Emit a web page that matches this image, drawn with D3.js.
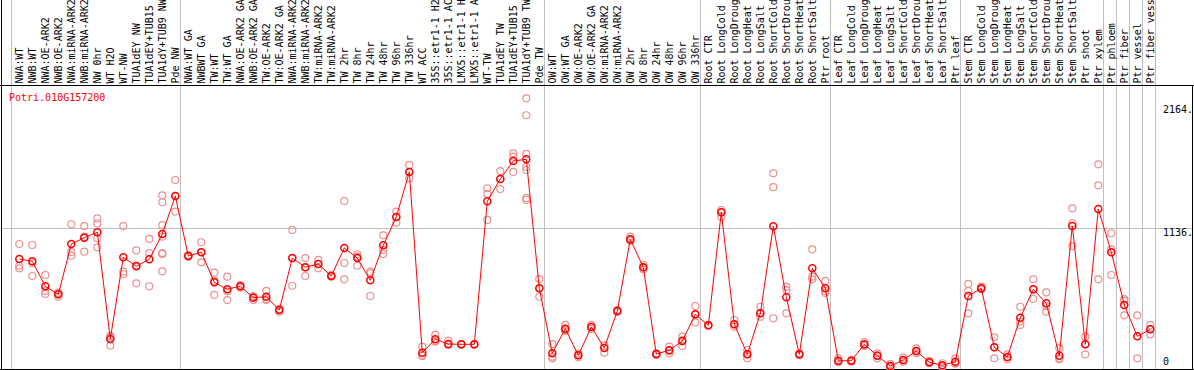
<!DOCTYPE html>
<html>
<head>
<meta charset="utf-8">
<script src="https://cdn.jsdelivr.net/npm/d3@7"></script>
<style>
  body { margin: 0; background: #fff; }
  svg { display: block; }
  text { font-family: "DejaVu Sans Mono", monospace; font-size: 10px; }
</style>
</head>
<body>
<div id="chart"></div>
<script>
var geneName = "Potri.010G157200";

var samples = [
  "NWA:WT", "NWB:WT", "NWA:OE-ARK2", "NWB:OE-ARK2", "NWA:miRNA-ARK2", "NWB:miRNA-ARK2",
  "NW 0hr", "WT H2O", "WT-NW", "TUA1dEY NW", "TUA1dEY+TUB15 NW", "TUA1dY+TUB9 NW", "Pde NW",
  "NWA:WT GA", "NWBWT GA", "TW:WT", "TW:WT GA", "NWA:OE-ARK2 GA", "NWB:OE-ARK2 GA",
  "TW:OE-ARK2", "TW:OE-ARK2 GA", "NWA:miRNA-ARK2 GA", "NWB:miRNA-ARK2 GA", "TW:miRNA-ARK2",
  "TW:miRNA-ARK2", "TW 2hr", "TW 8hr", "TW 24hr", "TW 48hr", "TW 96hr", "TW 336hr", "WT ACC",
  "35S::etr1-1 H2O", "35S::etr1-1 ACC", "LMX5::etr1-1 H2O", "LMX5::etr1-1 ACC", "WT-TW",
  "TUA1dEY TW", "TUA1dEY+TUB15 TW", "TUA1dY+TUB9 TW", "Pde TW",
  "OW:WT", "OW:WT GA", "OW:OE-ARK2", "OW:OE-ARK2 GA", "OW:miRNA-ARK2", "OW:miRNA-ARK2",
  "OW 2hr", "OW 8hr", "OW 24hr", "OW 48hr", "OW 96hr", "OW 336hr",
  "Root CTR", "Root LongCold", "Root LongDrought", "Root LongHeat", "Root LongSalt",
  "Root ShortCold", "Root ShortDrought", "Root ShortHeat", "Root ShortSalt", "Ptr root",
  "Leaf CTR", "Leaf LongCold", "Leaf LongDrought", "Leaf LongHeat", "Leaf LongSalt",
  "Leaf ShortCold", "Leaf ShortDrought", "Leaf ShortHeat", "Leaf ShortSalt", "Ptr leaf",
  "Stem CTR", "Stem LongCold", "Stem LongDrought", "Stem LongHeat", "Stem LongSalt",
  "Stem ShortCold", "Stem ShortDrought", "Stem ShortHeat", "Stem ShortSalt", "Ptr shoot",
  "Ptr xylem", "Ptr phloem", "Ptr fiber", "Ptr vessel", "Ptr fiber vessel"
];

// number of samples in each block between the grey separators
var groupSizes = [13, 28, 12, 10, 10, 11, 1, 1, 1, 1];

var means = [
  894, 875, 678, 614, 1012, 1062, 1105, 261, 907, 836, 891, 1091, 1392,
  917, 947, 709, 654, 678, 588, 595, 490, 901, 828, 854, 759, 981, 901, 725, 1002, 1226, 1582,
  153, 259, 221, 219, 219, 1350, 1526, 1668, 1682, 662,
  148, 342, 132, 356, 190, 482, 1049, 828, 142, 172, 245, 456,
  369, 1263, 377, 140, 464, 1152, 591, 140, 820, 662,
  89, 89, 219, 129, 47, 95, 166, 77, 53, 81,
  601, 662, 195, 119, 429, 654, 543, 129, 1155, 219, 1289,
  947, 530, 282, 338
];

var replicates = [
  [1012, 840, 820], [1004, 860, 759], [767, 641, 617], [627, 614, 595], [1168, 949, 920],
  [1154, 1070, 951], [1215, 1176, 1057, 986], [285, 273, 208], [1154, 793, 773], [962, 844, 701],
  [1052, 941, 678], [1397, 1342, 1162, 1070, 941, 933, 796], [1518, 1392, 1268],
  [925, 917, 912], [1026, 947, 867], [785, 722, 609], [754, 638, 569], [688, 678, 667],
  [601, 593, 569], [641, 577, 569], [498, 496, 477], [1123, 901, 682], [901, 828, 759],
  [886, 854, 820], [767, 759, 754], [1352, 862, 733], [931, 912, 840], [793, 780, 601],
  [1081, 965, 933], [1268, 1226, 1181], [1637, 1582, 1532], [200, 134, 127], [293, 245, 240],
  [248, 221, 214], [221, 219, 216], [221, 219, 216], [1453, 1408, 1202], [1589, 1526, 1447],
  [1729, 1703, 1582], [2164, 2030, 1724, 1623, 1597, 1374, 1360], [735, 662, 595],
  [221, 121, 108], [372, 332, 324], [148, 132, 116], [372, 356, 340], [208, 206, 153],
  [490, 482, 475], [1070, 1040, 1038], [846, 826, 812], [148, 142, 134], [200, 168, 148],
  [279, 250, 206], [522, 456, 393],
  [372, 369, 365], [1281, 1263, 1228], [411, 377, 358], [174, 140, 108], [516, 464, 437],
  [1571, 1461, 425], [675, 648, 464], [148, 140, 132], [970, 754, 733], [720, 641, 625],
  [108, 81, 78], [95, 90, 81], [237, 214, 206], [148, 131, 108], [63, 42, 36],
  [113, 91, 81], [187, 163, 148], [89, 73, 69], [69, 47, 43], [108, 69, 66],
  [696, 641, 464], [675, 657, 654], [274, 195, 108], [140, 117, 100], [516, 398, 372],
  [733, 654, 577], [630, 522, 477], [187, 108, 100], [1294, 1176, 996], [279, 219, 140],
  [1642, 1476, 733],
  [1097, 970, 767], [577, 564, 448], [448, 108], [372, 338, 298]
];

var tickValues = [0, 1136, 2164];
var tickLabels = ["0", "1136.", "2164."];

var W = 1194, H = 370;
var headerH = 85;

var svg = d3.select("#chart")
  .append("svg")
  .attr("width", W)
  .attr("height", H);

var x = d3.scaleLinear()
  .domain([0, samples.length - 1])
  .range([19.3, 1150.3]);
var y = d3.scaleLinear()
  .domain([0, d3.max(tickValues)])
  .range([372, 98.3]);

// separators after the last sample of each block (plus one before the first)
var sepIdx = [-1];
groupSizes.reduce(function(acc, n) {
  sepIdx.push(acc + n - 1);
  return acc + n;
}, 0);

svg.selectAll(".sep").data(sepIdx)
  .enter().append("line")
  .attr("class", "sep")
  .attr("x1", function(d) {return Math.round(x(d + 0.36)) + 0.5;})
  .attr("x2", function(d) {return Math.round(x(d + 0.36)) + 0.5;})
  .attr("y1", 0)
  .attr("y2", H)
  .style("stroke", "#c0c0c0");

svg.selectAll(".hgrid").data(tickValues.slice(1, 2))
  .enter().append("line")
  .attr("class", "hgrid")
  .attr("x1", 1)
  .attr("x2", W - 1)
  .attr("y1", function(d) {return Math.round(y(d)) + 0.5;})
  .attr("y2", function(d) {return Math.round(y(d)) + 0.5;})
  .style("stroke", "#c0c0c0");

// frame
svg.append("line")
  .attr("x1", 0).attr("x2", W)
  .attr("y1", headerH + 0.5).attr("y2", headerH + 0.5)
  .style("stroke", "#000");
svg.append("line")
  .attr("x1", 0).attr("x2", W)
  .attr("y1", H - 0.5).attr("y2", H - 0.5)
  .style("stroke", "#000");
svg.append("line")
  .attr("x1", 1.5).attr("x2", 1.5)
  .attr("y1", 0).attr("y2", H)
  .style("stroke", "#000");
svg.append("line")
  .attr("x1", W - 1.5).attr("x2", W - 1.5)
  .attr("y1", headerH).attr("y2", H)
  .style("stroke", "#000");

// sample names, rotated (long ones run off the top, as in the original)
svg.selectAll(".slabel").data(samples)
  .enter().append("text")
  .attr("class", "slabel")
  .attr("transform", function(d, i) {
    return "translate(" + (x(i) + 3.5) + "," + (headerH - 1.5) + ") rotate(-90)";
  })
  .style("fill", "#000")
  .text(function(d) {return d;});

// y labels on the right
svg.selectAll(".ylabel").data(tickValues)
  .enter().append("text")
  .attr("class", "ylabel")
  .attr("x", 1163)
  .attr("y", function(d) {
    var top = Math.max(105.3, Math.min(358, y(d)));
    return top + 7.3;
  })
  .style("fill", "#000")
  .text(function(d, i) {return tickLabels[i];});

svg.append("text")
  .attr("x", 9)
  .attr("y", 100.7)
  .style("fill", "red")
  .text(geneName);

// replicate points
var repPts = [];
replicates.forEach(function(r, i) {
  r.forEach(function(v) { repPts.push({i: i, v: v}); });
});

svg.selectAll(".rep").data(repPts)
  .enter().append("circle")
  .attr("class", "rep")
  .attr("cx", function(d) {return x(d.i);})
  .attr("cy", function(d) {return y(d.v);})
  .attr("r", 3.5)
  .style("fill", "none")
  .style("stroke", "#ee9090")
  .style("stroke-width", 1.2);

var line = d3.line()
  .x(function(d, i) {return x(i);})
  .y(function(d) {return y(d);});

svg.append("path")
  .datum(means)
  .attr("d", line)
  .style("fill", "none")
  .style("stroke", "red")
  .style("stroke-width", 1);

svg.selectAll(".mean").data(means)
  .enter().append("circle")
  .attr("class", "mean")
  .attr("cx", function(d, i) {return x(i);})
  .attr("cy", function(d) {return y(d);})
  .attr("r", 3.5)
  .style("fill", "none")
  .style("stroke", "red")
  .style("stroke-width", 1.5);
</script>
</body>
</html>
